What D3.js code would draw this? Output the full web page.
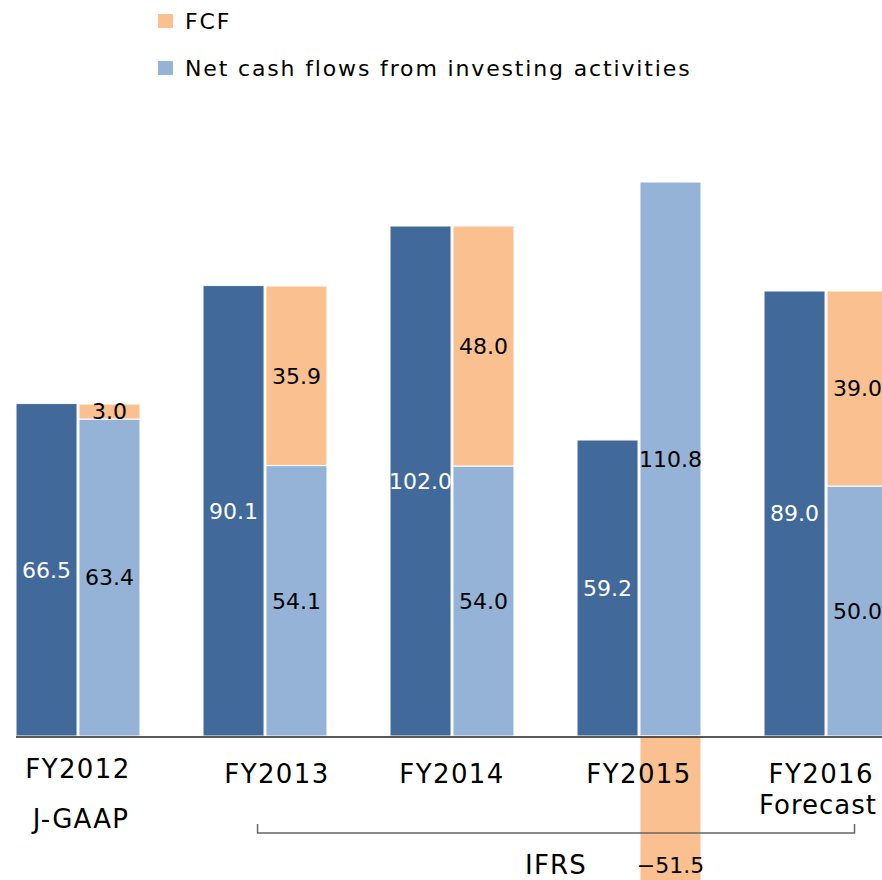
<!DOCTYPE html>
<html>
<head>
<meta charset="utf-8">
<script src="https://cdn.jsdelivr.net/npm/d3@7"></script>
<style>
  body { margin: 0; background: #fff; }
  svg text { font-family: "DejaVu Sans", sans-serif; }
</style>
</head>
<body>
<div class="chart"></div>
<script>
// data
const categories = ['FY2012', 'FY2013', 'FY2014', 'FY2015', 'FY2016']
const subLabels = ['', '', '', '', 'Forecast']
const operating = [66.5, 90.1, 102.0, 59.2, 89.0] // dark bars
const investing = [63.4, 54.1, 54.0, 110.8, 50.0]
const fcf = [3.0, 35.9, 48.0, -51.5, 39.0]
const legendItems = [
  { name: 'FCF', color: '#fac090' },
  { name: 'Net cash flows from investing activities', color: '#95b3d7' }
]

const width = 882
const height = 880
const baseY = 736
const colors = { op: '#41699a', inv: '#95b3d7', fcf: '#fac090' }
const fmt = d3.format('.1f')

const svg = d3.select('.chart').append('svg')
  .attr('width', width)
  .attr('height', height)

// scales
const x = d3.scaleBand()
  .domain(categories)
  .range([16, 888])
  .paddingInner(0.337)
  .paddingOuter(0)
const xInner = d3.scaleBand()
  .domain(['op', 'inv'])
  .range([0, x.bandwidth()])
  .paddingInner(0.03)
const y = d3.scaleLinear()
  .domain([0, 100])
  .range([baseY, baseY - 500])

// build the segment list
const segs = []
categories.forEach((c, i) => {
  segs.push({ cat: c, key: 'op', y0: 0, y1: operating[i], v: operating[i], color: colors.op, txt: '#fff' })
  segs.push({ cat: c, key: 'inv', y0: 0, y1: investing[i], v: investing[i], color: colors.inv, txt: '#000' })
  if (fcf[i] >= 0) {
    segs.push({ cat: c, key: 'inv', y0: investing[i], y1: investing[i] + fcf[i], v: fcf[i], color: colors.fcf, txt: '#000' })
  } else {
    segs.push({ cat: c, key: 'inv', y0: fcf[i], y1: 0, v: fcf[i], color: colors.fcf, txt: '#000' })
  }
})

const g = svg.append('g')

g.selectAll('rect.seg')
  .data(segs)
  .join('rect')
  .attr('class', 'seg')
  .attr('x', d => x(d.cat) + xInner(d.key))
  .attr('width', xInner.bandwidth())
  .attr('y', d => y(Math.max(d.y0, d.y1)))
  .attr('height', d => Math.abs(y(d.y0) - y(d.y1)))
  .attr('fill', d => d.color)
  .attr('stroke', '#fff')
  .attr('stroke-opacity', 0.85)
  .attr('stroke-width', 1.2)

// axis line
svg.append('line')
  .attr('x1', 16).attr('x2', width)
  .attr('y1', baseY + 1).attr('y2', baseY + 1)
  .attr('stroke', '#222')
  .attr('stroke-width', 1.6)

// value labels
g.selectAll('text.val')
  .data(segs)
  .join('text')
  .attr('class', 'val')
  .attr('x', d => x(d.cat) + xInner(d.key) + xInner.bandwidth() / 2)
  .attr('y', d => (y(d.y0) + y(d.y1)) / 2)
  .attr('dy', '0.36em')
  .attr('text-anchor', 'middle')
  .attr('font-size', 22)
  .attr('fill', d => d.txt)
  .text(d => fmt(d.v).replace('-', '−'))

// keep a centred label inside the right edge
function clampRight(sel, maxX) {
  sel.each(function () {
    const t = d3.select(this)
    const w = this.getComputedTextLength()
    const cx = +t.attr('x')
    if (cx + w / 2 > maxX) t.attr('x', maxX - w / 2)
  })
}

// category labels
const cat = svg.append('g')
cat.selectAll('text.cat')
  .data(categories)
  .join('text')
  .attr('class', 'cat')
  .attr('x', (d, i) => x(d) + x.bandwidth() / 2 + (i === 1 ? 12 : 0))
  .attr('y', (d, i) => i === 0 ? 778 : 783)
  .attr('text-anchor', 'middle')
  .attr('font-size', 26)
  .attr('letter-spacing', 1.4)
  .attr('fill', '#000')
  .text(d => d)
  .call(clampRight, 874)
cat.selectAll('text.sub')
  .data(categories.filter((d, i) => subLabels[i]))
  .join('text')
  .attr('class', 'sub')
  .attr('x', d => x(d) + x.bandwidth() / 2)
  .attr('y', 814)
  .attr('text-anchor', 'middle')
  .attr('font-size', 26)
  .attr('letter-spacing', 1)
  .text(d => subLabels[categories.indexOf(d)])
  .call(clampRight, 877)

// accounting standard notes
svg.append('text')
  .attr('x', x('FY2012') + x.bandwidth() / 2 + 3)
  .attr('y', 828)
  .attr('text-anchor', 'middle')
  .attr('font-size', 26)
  .attr('letter-spacing', 1.2)
  .text('J-GAAP')

const bx1 = x('FY2013') + x.bandwidth() * 0.44
const bx2 = x('FY2016') + x.bandwidth() * 0.73
svg.append('path')
  .attr('d', `M${bx1},824 L${bx1},833 L${bx2},833 L${bx2},824`)
  .attr('fill', 'none')
  .attr('stroke', '#666')
  .attr('stroke-width', 1.5)
svg.append('text')
  .attr('x', (bx1 + bx2) / 2)
  .attr('y', 874)
  .attr('text-anchor', 'middle')
  .attr('font-size', 26)
  .attr('letter-spacing', 1.2)
  .text('IFRS')

// legend
const leg = svg.append('g').selectAll('g')
  .data(legendItems)
  .join('g')
  .attr('transform', (d, i) => `translate(158,${14 + i * 47})`)
leg.append('rect')
  .attr('width', 15).attr('height', 14)
  .attr('fill', d => d.color)
leg.append('text')
  .attr('x', 27)
  .attr('y', 15)
  .attr('font-size', 22)
  .attr('letter-spacing', 1.85)
  .text(d => d.name)
</script>
</body>
</html>
